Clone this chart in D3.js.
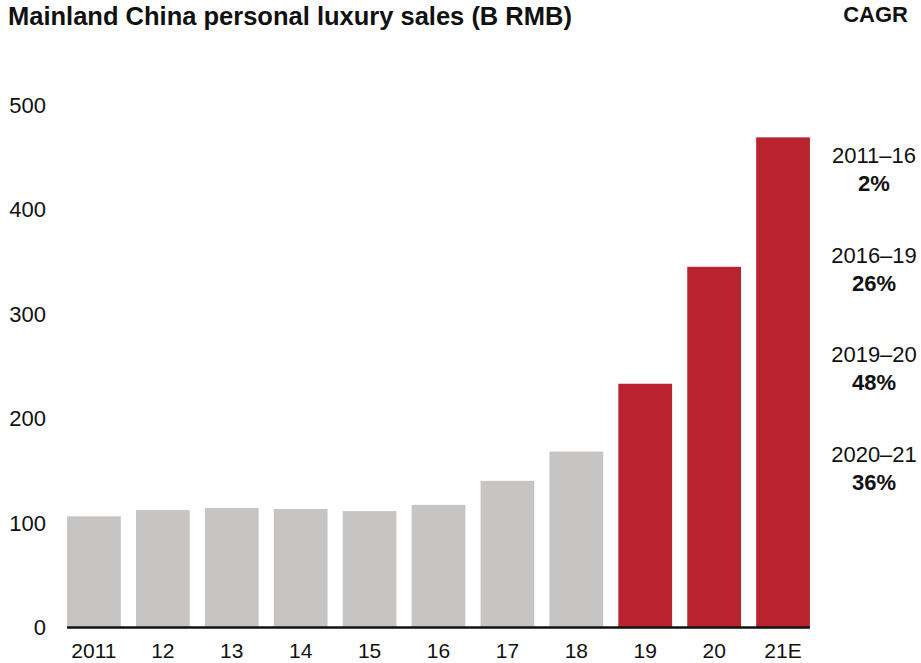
<!DOCTYPE html>
<html lang="en">
<head>
    <meta charset="UTF-8">
    <title>Mainland China personal luxury sales</title>
    <script src="https://d3js.org/d3.v7.min.js"></script>
    <style>
        body { margin: 0; background: #fff; }
        text { font-family: "Liberation Sans", Arial, sans-serif; fill: #111; }
    </style>
</head>
<body>
    <svg width="921" height="663"></svg>
    <script>
        // data
        var years = ["2011", "12", "13", "14", "15", "16", "17", "18", "19", "20", "21E"];
        var sales = [106, 112, 114, 113, 111, 117, 140, 168, 233, 345, 469];
        var highlight = [false, false, false, false, false, false, false, false, true, true, true];
        var yTicks = [0, 100, 200, 300, 400, 500];
        var cagrPeriods = ["2011\u201316", "2016\u201319", "2019\u201320", "2020\u201321"];
        var cagrValues = ["2%", "26%", "48%", "36%"];

        var svg = d3.select("svg");

        var x = d3.scaleBand()
            .domain(years)
            .range([59.5, 817.5])
            .paddingInner(0.22)
            .paddingOuter(0.11);

        var y = d3.scaleLinear()
            .domain([0, 500])
            .range([627, 105]);

        // title
        svg.append("text")
            .attr("x", 8)
            .attr("y", 25)
            .style("font-size", "25.5px")
            .style("font-weight", "bold")
            .text("Mainland China personal luxury sales (B RMB)");

        svg.append("text")
            .attr("x", 908)
            .attr("y", 22)
            .attr("text-anchor", "end")
            .style("font-size", "22px")
            .style("font-weight", "bold")
            .text("CAGR");

        // bars
        svg.selectAll(".bar")
            .data(years)
            .enter().append("rect")
            .attr("class", "bar")
            .attr("x", function(d) { return x(d); })
            .attr("width", x.bandwidth())
            .attr("y", function(d, i) { return y(sales[i]); })
            .attr("height", function(d, i) { return y(0) - y(sales[i]); })
            .attr("fill", function(d, i) { return highlight[i] ? "#B8232D" : "#C6C5C3"; });

        // baseline
        svg.append("line")
            .attr("x1", x(years[0]))
            .attr("x2", x(years[years.length - 1]) + x.bandwidth())
            .attr("y1", y(0) + 0.5)
            .attr("y2", y(0) + 0.5)
            .attr("stroke", "#111")
            .attr("stroke-width", 2.5);

        // y axis labels
        svg.selectAll(".ylab")
            .data(yTicks)
            .enter().append("text")
            .attr("class", "ylab")
            .attr("x", 46)
            .attr("y", function(d) { return y(d); })
            .attr("dy", "0.36em")
            .attr("text-anchor", "end")
            .style("font-size", "22px")
            .text(function(d) { return d; });

        // x axis labels
        svg.selectAll(".xlab")
            .data(years)
            .enter().append("text")
            .attr("class", "xlab")
            .attr("x", function(d) { return x(d) + x.bandwidth() / 2; })
            .attr("y", 658)
            .attr("text-anchor", "middle")
            .style("font-size", "21px")
            .text(function(d) { return d; });

        // CAGR column
        var cagr = svg.selectAll(".cagr")
            .data(cagrPeriods)
            .enter().append("g")
            .attr("class", "cagr")
            .attr("transform", function(d, i) { return "translate(874," + (163 + i * 99.5) + ")"; });

        cagr.append("text")
            .attr("text-anchor", "middle")
            .style("font-size", "22px")
            .text(function(d) { return d; });

        cagr.append("text")
            .attr("y", 28)
            .attr("text-anchor", "middle")
            .style("font-size", "22px")
            .style("font-weight", "bold")
            .text(function(d, i) { return cagrValues[i]; });
    </script>
</body>
</html>
